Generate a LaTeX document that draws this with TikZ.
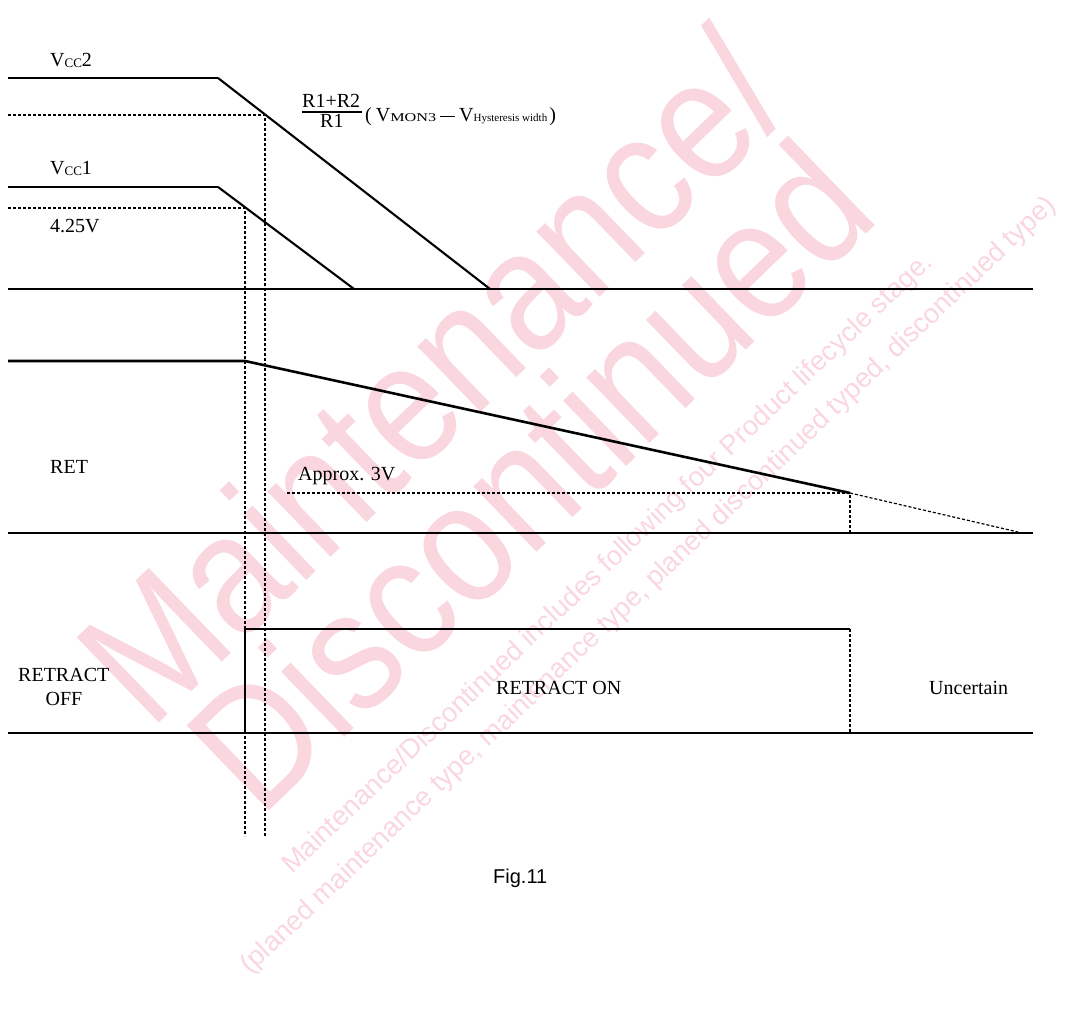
\documentclass[tikz,border=0pt]{standalone}
\usepackage{fontspec}
\setmainfont{Liberation Serif}
\newfontfamily\wmfont{Liberation Sans}
\definecolor{wm}{RGB}{250,214,223}
\begin{document}
\begin{tikzpicture}[x=1pt,y=-1pt,
  sig/.style={line width=2.6pt},
  ramp/.style={line width=2.1pt},
  guide/.style={line width=1.2pt, dash pattern=on 3pt off 2pt},
  lbl/.style={font=\fontsize{20}{24}\selectfont, inner sep=0pt, anchor=base west},
  wmbig/.style={font=\wmfont\fontsize{172}{172}\selectfont, text=wm, inner sep=0pt, rotate=44, anchor=base west},
  wmsmall/.style={font=\wmfont\fontsize{27.3}{28}\selectfont, text=wm, inner sep=0pt, rotate=43.6, anchor=base west}]
\useasboundingbox (0,0) rectangle (1069,1022);
% watermark
\node[wmbig] (wm1) at (150,732) {\scalebox{0.87}[1]{Maintenance/}};
\node[wmbig] (wm2) at (260,820) {\scalebox{0.87}[1]{Discontinued}};
\node[wmsmall] (wm3) at (292,875) {Maintenance/Discontinued includes following four Product lifecycle stage.};
\node[wmsmall] (wm4) at (250,975) {(planed maintenance type, maintenance type, planed discontinued typed, discontinued type)};
% coordinates
\coordinate (v2a) at (8,78);   \coordinate (v2b) at (218,78);  \coordinate (v2c) at (490,289);
\coordinate (v1a) at (8,187);  \coordinate (v1b) at (218,187); \coordinate (v1c) at (354,289);
\coordinate (b1a) at (8,289);  \coordinate (b1b) at (1033,289);
\coordinate (h1a) at (8,115);  \coordinate (h1b) at (265,115); \coordinate (h1c) at (265,836);
\coordinate (h2a) at (8,208);  \coordinate (h2b) at (245,208); \coordinate (h2c) at (245,836);
\coordinate (ra) at (8,361);   \coordinate (rb) at (245,361);  \coordinate (rc) at (850,493); \coordinate (rd) at (1018,532);
\coordinate (b2a) at (8,533);  \coordinate (b2b) at (1033,533); \coordinate (rc0) at (850,533);
\coordinate (ap) at (287,493);
\coordinate (b3a) at (8,733);  \coordinate (b3b) at (1033,733);
\coordinate (ta) at (245,733); \coordinate (tb) at (245,629); \coordinate (tc) at (850,629); \coordinate (td) at (850,733);
% guides
\draw[guide] (h1a) -- (h1b) -- (h1c);
\draw[guide] (h2a) -- (h2b) -- (h2c);
\draw[guide] (ap) -- (rc) -- (rc0);
\draw[guide] (rc) -- (rd);
\draw[guide] (tc) -- (td);
% signals
\draw[sig] (v2a) -- (v2b);
\draw[ramp] (v2b) -- (v2c);
\draw[sig] (v1a) -- (v1b);
\draw[ramp] (v1b) -- (v1c);
\draw[sig] (b1a) -- (b1b);
\draw[sig] (ra) -- (rb) -- (rc);
\draw[sig] (b2a) -- (b2b);
\draw[sig] (b3a) -- (b3b);
\draw[sig] (ta) -- (tb) -- (tc);
% labels
\node[lbl] (vcc2) at (50,67) {V{\fontsize{13}{13}\selectfont\raisebox{-1pt}{CC}}2};
\node[lbl] (vcc1) at (50,175) {V{\fontsize{13}{13}\selectfont\raisebox{-1pt}{CC}}1};
\node[lbl] (v425) at (50,233) {4.25V};
\node[lbl] (num) at (302,108) {R1+R2};
\node[lbl] (den) at (320,128) {R1};
\draw[line width=1.3pt] (302,112) -- (362,112);
\node[lbl] (par) at (365,122) {(\hspace{4pt}V{\fontsize{12}{12}\selectfont\scalebox{1.35}[1]{MON3}}\hspace{4pt}\raisebox{5pt}{\rule{15pt}{0.9pt}}\hspace{4pt}V{\fontsize{11}{12}\selectfont Hysteresis width}\hspace{2pt})};
\node[lbl] (ret) at (50,473) {RET};
\node[lbl] (approx) at (298,480) {Approx. 3V};
\node[lbl] (roff1) at (18,681) {RETRACT};
\node[lbl, anchor=base] (roff2) at (64,705) {OFF};
\node[lbl] (ron) at (496,694) {RETRACT ON};
\node[lbl] (unc) at (929,694) {Uncertain};
\node[lbl, font=\wmfont\fontsize{20}{24}\selectfont] (fig) at (493,883) {Fig.11};
\end{tikzpicture}
\end{document}
